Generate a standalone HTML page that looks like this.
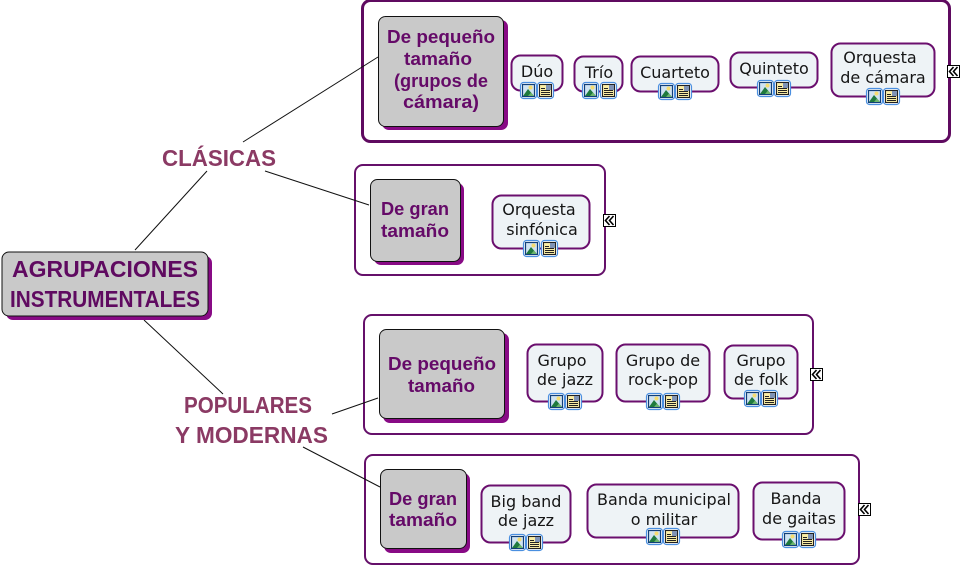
<!DOCTYPE html>
<html><head><meta charset="utf-8"><style>
html,body{margin:0;padding:0;background:#fff;width:962px;height:566px;overflow:hidden}
svg{display:block}
.f{fill:#fff;stroke:#65106a;stroke-width:2}
.s{fill:#880a85}
.n{fill:#c9c9c9;stroke:#111;stroke-width:1}
.c{fill:#eef3f6;stroke:#6b0f6e;stroke-width:2}
.l{stroke:#111;stroke-width:1;fill:none}
.b{font-family:"Liberation Sans",sans-serif;font-weight:bold;font-size:18px;fill:#650a68}
.r{font-family:"Liberation Sans",sans-serif;font-weight:bold;font-size:23.5px;fill:#5f0a60}
.h{font-family:"Liberation Sans",sans-serif;font-weight:bold;font-size:23.5px;fill:#8b3a64}
.t{font-family:"DejaVu Sans",sans-serif;font-size:16px;fill:#151515;text-anchor:middle}
</style></head><body>
<svg width="962" height="566" viewBox="0 0 962 566" xmlns="http://www.w3.org/2000/svg">
<defs>
<g id="a">
<rect x=".5" y=".5" width="16" height="16" rx="3" fill="#fff" stroke="#4a8fe0" stroke-width="1.2"/>
<rect x="2.5" y="2.5" width="12" height="12" fill="#cfe3f2" stroke="#123f78" stroke-width="1.2"/>
<circle cx="10.5" cy="5.500" r="2" fill="#f5dc70"/>
<path d="M3 14 L8 7 L14 14Z" fill="#1f7a3e"/>
<path d="M8 14 L11 10.500 L14 14Z" fill="#6cb56c"/>
</g>
<g id="d">
<rect x=".5" y=".5" width="16" height="16" rx="3" fill="#fff" stroke="#4a8fe0" stroke-width="1.2"/>
<rect x="2.500" y="2.500" width="12" height="12" fill="#fbeea6" stroke="#222" stroke-width="1.1"/>
<rect x="9" y="3" width="5" height="5" fill="#7f93b5"/>
<path d="M4 6.500h4M4 8.500h9M4 10.500h9M4 12.500h9" stroke="#222" stroke-width="1"/>
</g>
<g id="x">
<rect x=".5" y=".5" width="12" height="12" fill="#fff" stroke="#000"/>
<path d="M6.500 2 L2.500 6.500 L6.500 11 M10.500 2 L6.500 6.500 L10.500 11" fill="none" stroke="#000" stroke-width="1.600"/>
</g>
</defs>

<!-- frames -->
<rect x="362.500" y="0.500" width="587" height="141" rx="8" fill="#fff" stroke="#5f0a60" stroke-width="3"/>
<rect class="f" x="355" y="165" width="250" height="110" rx="8"/>
<rect class="f" x="364" y="315" width="449" height="119" rx="8"/>
<rect class="f" x="365" y="455" width="494" height="109" rx="8"/>

<!-- connectors -->
<path class="l" d="M135 250L207 171M243 142L378 57M265 171L369 205M144 320L223 394M332 414L378 398M303 447L380 487"/>

<!-- root -->
<rect class="s" x="6" y="256" width="206" height="64" rx="7"/>
<rect class="n" x="2" y="252" width="206" height="64" rx="7"/>
<text class="r" x="12" y="277" textLength="186" lengthAdjust="spacingAndGlyphs">AGRUPACIONES</text>
<text class="r" x="10" y="307" textLength="190" lengthAdjust="spacingAndGlyphs">INSTRUMENTALES</text>

<!-- headings -->
<text class="h" x="162" y="166" textLength="114" lengthAdjust="spacingAndGlyphs">CLÁSICAS</text>
<text class="h" x="184" y="413" textLength="128" lengthAdjust="spacingAndGlyphs">POPULARES</text>
<text class="h" x="175" y="443" textLength="153" lengthAdjust="spacingAndGlyphs">Y MODERNAS</text>

<!-- grey nodes -->
<rect class="s" x="382" y="20" width="126" height="110" rx="7"/>
<rect class="n" x="378.500" y="16.500" width="125" height="110" rx="7"/>
<text class="b" x="387" y="43" textLength="108" lengthAdjust="spacingAndGlyphs">De pequeño</text>
<text class="b" x="404" y="65" textLength="68" lengthAdjust="spacingAndGlyphs">tamaño</text>
<text class="b" x="394" y="87" textLength="94" lengthAdjust="spacingAndGlyphs">(grupos de</text>
<text class="b" x="403" y="108" textLength="76" lengthAdjust="spacingAndGlyphs">cámara)</text>

<rect class="s" x="374" y="183" width="90" height="82" rx="7"/>
<rect class="n" x="370.500" y="179.500" width="90" height="82" rx="7"/>
<text class="b" x="381" y="215" textLength="68" lengthAdjust="spacingAndGlyphs">De gran</text>
<text class="b" x="381" y="237" textLength="68" lengthAdjust="spacingAndGlyphs">tamaño</text>

<rect class="s" x="383" y="333" width="126" height="90" rx="7"/>
<rect class="n" x="379.500" y="329.500" width="125" height="89" rx="7"/>
<text class="b" x="388" y="370" textLength="108" lengthAdjust="spacingAndGlyphs">De pequeño</text>
<text class="b" x="408" y="392" textLength="67" lengthAdjust="spacingAndGlyphs">tamaño</text>

<rect class="s" x="384" y="473" width="86" height="80" rx="7"/>
<rect class="n" x="380.500" y="469.500" width="86" height="79" rx="7"/>
<text class="b" x="389" y="505" textLength="68" lengthAdjust="spacingAndGlyphs">De gran</text>
<text class="b" x="389" y="526" textLength="68" lengthAdjust="spacingAndGlyphs">tamaño</text>

<!-- concept boxes -->
<rect class="c" x="511.500" y="55.500" width="51" height="35" rx="9"/>
<text class="t" x="537" y="77">Dúo</text>
<use href="#a" x="520" y="82"/><use href="#d" x="537" y="82"/>

<rect class="c" x="574.500" y="56.500" width="48" height="35" rx="9"/>
<text class="t" x="599" y="78">Trío</text>
<use href="#a" x="582" y="82"/><use href="#d" x="600" y="82"/>

<rect class="c" x="631.500" y="56.500" width="87" height="35" rx="9"/>
<text class="t" x="675" y="78">Cuarteto</text>
<use href="#a" x="658" y="83"/><use href="#d" x="675" y="83"/>

<rect class="c" x="730.500" y="52.500" width="87" height="35" rx="9"/>
<text class="t" x="774" y="74">Quinteto</text>
<use href="#a" x="757" y="80"/><use href="#d" x="774" y="80"/>

<rect class="c" x="831.500" y="43.500" width="103" height="53" rx="9"/>
<text class="t" x="880" y="63">Orquesta</text>
<text class="t" x="883" y="83">de cámara</text>
<use href="#a" x="866" y="88"/><use href="#d" x="883" y="88"/>

<rect class="c" x="492.500" y="195.500" width="97" height="53" rx="9"/>
<text class="t" x="539" y="215">Orquesta</text>
<text class="t" x="542" y="235">sinfónica</text>
<use href="#a" x="523" y="240"/><use href="#d" x="541" y="240"/>

<rect class="c" x="527.500" y="344.500" width="75" height="57" rx="9"/>
<text class="t" x="562" y="366">Grupo</text>
<text class="t" x="565" y="385">de jazz</text>
<use href="#a" x="548" y="393"/><use href="#d" x="565" y="393"/>

<rect class="c" x="616.500" y="344.500" width="93" height="57" rx="9"/>
<text class="t" x="663" y="366">Grupo de</text>
<text class="t" x="663" y="385">rock-pop</text>
<use href="#a" x="646" y="393"/><use href="#d" x="663" y="393"/>

<rect class="c" x="724.500" y="345.500" width="73" height="53" rx="9"/>
<text class="t" x="761" y="366">Grupo</text>
<text class="t" x="761" y="385">de folk</text>
<use href="#a" x="744" y="390"/><use href="#d" x="761" y="390"/>

<rect class="c" x="481.500" y="485.500" width="89" height="57" rx="9"/>
<text class="t" x="526" y="507">Big band</text>
<text class="t" x="526" y="526">de jazz</text>
<use href="#a" x="509" y="534"/><use href="#d" x="526" y="534"/>

<rect class="c" x="587.500" y="484.500" width="151" height="53" rx="9"/>
<text class="t" x="664" y="505">Banda municipal</text>
<text class="t" x="664" y="525">o militar</text>
<use href="#a" x="646" y="528"/><use href="#d" x="663" y="528"/>

<rect class="c" x="753.500" y="482.500" width="91" height="57" rx="9"/>
<text class="t" x="796" y="504">Banda</text>
<text class="t" x="799" y="524">de gaitas</text>
<use href="#a" x="782" y="531"/><use href="#d" x="799" y="531"/>

<!-- expand markers -->
<use href="#x" x="947" y="65"/>
<use href="#x" x="603" y="214"/>
<use href="#x" x="810" y="368"/>
<use href="#x" x="858" y="503"/>
</svg>
</body></html>
